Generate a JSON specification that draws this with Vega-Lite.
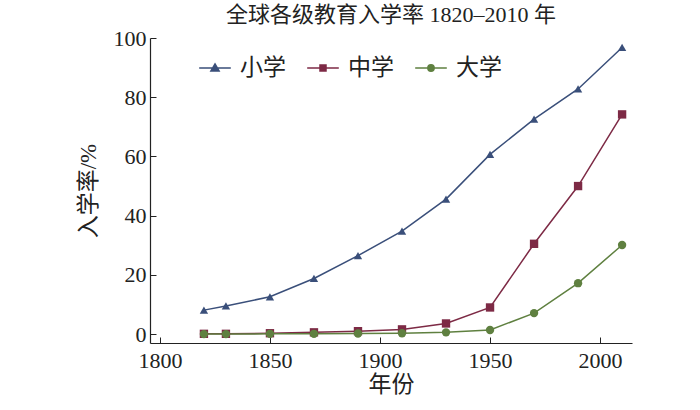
{
  "$schema": "https://vega.github.io/schema/vega-lite/v6.json",
  "autosize": {"type": "none"},
  "width": 482,
  "height": 305,
  "padding": {"left": 150, "top": 38, "right": 68, "bottom": 67},
  "background": "white",
  "title": {
    "text": "全球各级教育入学率 1820–2010 年",
    "font": "Liberation Serif, Noto Sans CJK SC",
    "fontSize": 22,
    "fontWeight": "normal",
    "color": "#222",
    "anchor": "middle",
    "offset": 0
  },
  "config": {
    "view": {"stroke": null},
    "font": "Liberation Serif, Noto Sans CJK SC"
  },
  "data": {
    "values": [
      {"year": 1820, "series": "小学", "rate": 8.1},
      {"year": 1830, "series": "小学", "rate": 9.5},
      {"year": 1850, "series": "小学", "rate": 12.6},
      {"year": 1870, "series": "小学", "rate": 18.8},
      {"year": 1890, "series": "小学", "rate": 26.5},
      {"year": 1910, "series": "小学", "rate": 34.8},
      {"year": 1930, "series": "小学", "rate": 45.6},
      {"year": 1950, "series": "小学", "rate": 60.7},
      {"year": 1970, "series": "小学", "rate": 72.6},
      {"year": 1990, "series": "小学", "rate": 82.8},
      {"year": 2010, "series": "小学", "rate": 96.8},
      {"year": 1820, "series": "中学", "rate": 0.1},
      {"year": 1830, "series": "中学", "rate": 0.1},
      {"year": 1850, "series": "中学", "rate": 0.3},
      {"year": 1870, "series": "中学", "rate": 0.6},
      {"year": 1890, "series": "中学", "rate": 1.0},
      {"year": 1910, "series": "中学", "rate": 1.6},
      {"year": 1930, "series": "中学", "rate": 3.6},
      {"year": 1950, "series": "中学", "rate": 9.0},
      {"year": 1970, "series": "中学", "rate": 30.5},
      {"year": 1990, "series": "中学", "rate": 50.0},
      {"year": 2010, "series": "中学", "rate": 74.2},
      {"year": 1820, "series": "大学", "rate": 0.0},
      {"year": 1830, "series": "大学", "rate": 0.0},
      {"year": 1850, "series": "大学", "rate": 0.1},
      {"year": 1870, "series": "大学", "rate": 0.1},
      {"year": 1890, "series": "大学", "rate": 0.2},
      {"year": 1910, "series": "大学", "rate": 0.3},
      {"year": 1930, "series": "大学", "rate": 0.6},
      {"year": 1950, "series": "大学", "rate": 1.4},
      {"year": 1970, "series": "大学", "rate": 7.1},
      {"year": 1990, "series": "大学", "rate": 17.2},
      {"year": 2010, "series": "大学", "rate": 30.1}
    ]
  },
  "encoding": {
    "x": {
      "field": "year", "type": "quantitative",
      "scale": {"domain": [1795.5, 2014.5], "nice": false, "zero": false},
      "axis": {
        "title": "年份", "titleFontSize": 23, "titleFontWeight": "normal", "titleColor": "#222", "titlePadding": 2,
        "values": [1800, 1850, 1900, 1950, 2000], "format": "d",
        "labelFontSize": 22, "labelColor": "#222", "labelPadding": 13,
        "tickSize": -6, "tickColor": "#222", "domainColor": "#222", "domainWidth": 1.2,
        "grid": false
      }
    },
    "y": {
      "field": "rate", "type": "quantitative",
      "scale": {"domain": [-3, 100], "nice": false, "zero": false},
      "axis": {
        "title": "入学率/%", "titleFontSize": 23, "titleFontWeight": "normal", "titleColor": "#222", "titlePadding": 13,
        "values": [0, 20, 40, 60, 80, 100],
        "labelFontSize": 22, "labelColor": "#222", "labelPadding": 10,
        "tickSize": -6, "tickColor": "#222", "domainColor": "#222", "domainWidth": 1.2,
        "grid": false
      }
    },
    "color": {
      "field": "series", "type": "nominal",
      "scale": {"domain": ["小学", "中学", "大学"], "range": ["#3a4f7a", "#7d2a45", "#5f8040"]},
      "legend": {
        "orient": "none", "legendX": 48, "legendY": 13, "direction": "horizontal",
        "title": null, "labelFontSize": 23, "labelColor": "#222",
        "symbolSize": 1000, "columnPadding": 18, "labelOffset": 8,
        "symbolStrokeWidth": 1.5,
        "encode": {
          "symbols": {
            "update": {
              "shape": {"signal": "datum.value === '小学' ? 'M-1,0H1M0,-0.26L0.26,0.19H-0.26Z' : datum.value === '中学' ? 'M-1,0H1M-0.19,-0.19H0.19V0.19H-0.19Z' : 'M-1,0H1M0.2,0A0.2,0.2 0 1 1 -0.2,0A0.2,0.2 0 1 1 0.2,0'"},
              "stroke": {"scale": "color", "field": "value"},
              "fill": {"scale": "color", "field": "value"},
              "opacity": {"value": 1}
            }
          }
        }
      }
    }
  },
  "layer": [
    {"mark": {"type": "line", "strokeWidth": 1.5}},
    {"transform": [{"filter": "datum.series === '小学'"}], "mark": {"type": "point", "shape": "triangle-up", "filled": true, "size": 70, "opacity": 1}},
    {"transform": [{"filter": "datum.series === '中学'"}], "mark": {"type": "point", "shape": "square", "filled": true, "size": 70, "opacity": 1}},
    {"transform": [{"filter": "datum.series === '大学'"}], "mark": {"type": "point", "shape": "circle", "filled": true, "size": 70, "opacity": 1}}
  ]
}
